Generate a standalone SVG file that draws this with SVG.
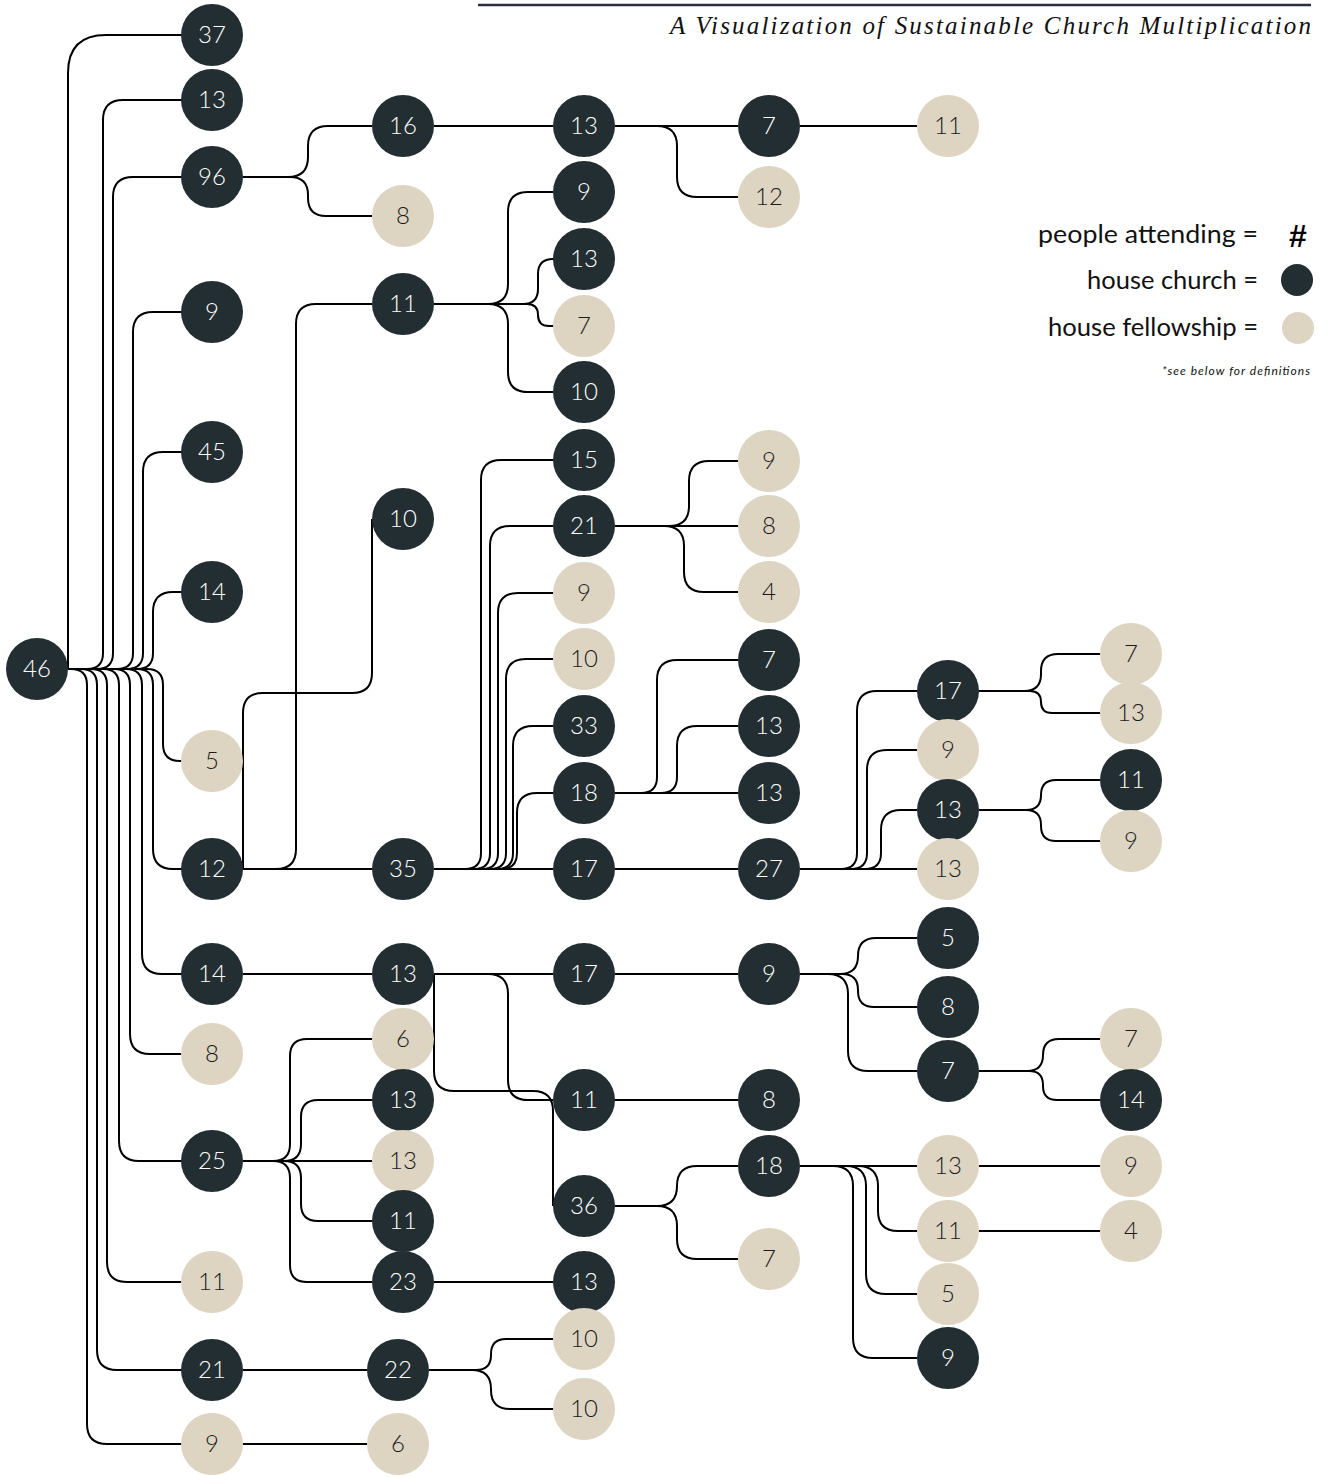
<svg xmlns="http://www.w3.org/2000/svg" width="1330" height="1477" viewBox="0 0 1330 1477">
<style>
.d{fill:#232e32}
.l{fill:#ddd4c2}
.n text{font-family:Lato,"Noto Sans",sans-serif;font-weight:300;font-size:24px;text-anchor:middle}
.n .d+text{fill:#ffffff}
.n .l+text{fill:#1b1b1b}
#links path{fill:none;stroke:#000;stroke-width:2}
.leg{font-family:Lato,"Noto Sans",sans-serif;font-size:25px;fill:#111;text-anchor:end}
</style>
<rect width="1330" height="1477" fill="#ffffff"/>
<g id="title">
<line x1="478" y1="5" x2="1311" y2="5" stroke="#2b3040" stroke-width="2.5"/>
<text x="1311" y="34" text-anchor="end" font-family="'Liberation Serif',serif" font-style="italic" font-size="25" fill="#111" textLength="641" lengthAdjust="spacing">A Visualization of Sustainable Church Multiplication</text>
</g>
<g id="legend">
<text class="leg" x="1258" y="243" textLength="220" lengthAdjust="spacingAndGlyphs">people attending =</text>
<text x="1298" y="247" text-anchor="middle" font-family="'Liberation Sans',sans-serif" font-weight="bold" font-size="32" fill="#000">#</text>
<text class="leg" x="1258" y="289" textLength="171" lengthAdjust="spacingAndGlyphs">house church =</text>
<text class="leg" x="1258" y="336" textLength="210" lengthAdjust="spacingAndGlyphs">house fellowship =</text>
<circle cx="1297" cy="280" r="16" class="d"/>
<circle cx="1298" cy="328" r="16" class="l"/>
<text x="1310" y="375" text-anchor="end" font-family="Lato,'Noto Sans',sans-serif" font-style="italic" font-size="12" fill="#111" textLength="148" lengthAdjust="spacing">*see below for definitions</text>
</g>
<g id="links">
<path d="M68 669 V73 Q68 35 106 35 H182"/>
<path d="M68 669 H87 Q103 669 103 653 V120 Q103 100 123 100 H182"/>
<path d="M68 669 H97 Q113 669 113 653 V197 Q113 177 133 177 H182"/>
<path d="M68 669 H117 Q133 669 133 653 V332 Q133 312 153 312 H182"/>
<path d="M68 669 H127 Q143 669 143 653 V472 Q143 452 163 452 H182"/>
<path d="M68 669 H137 Q153 669 153 653 V612 Q153 592 173 592 H182"/>
<path d="M68 669 H147 Q163 669 163 685 V744 Q163 761 180 761 H182"/>
<path d="M68 669 H137 Q153 669 153 685 V849 Q153 869 173 869 H182"/>
<path d="M68 669 H126 Q142 669 142 685 V954 Q142 974 162 974 H182"/>
<path d="M68 669 H114 Q130 669 130 685 V1034 Q130 1054 150 1054 H182"/>
<path d="M68 669 H103 Q119 669 119 685 V1141 Q119 1161 139 1161 H182"/>
<path d="M68 669 H91 Q107 669 107 685 V1262 Q107 1282 127 1282 H182"/>
<path d="M68 669 H81 Q97 669 97 685 V1350 Q97 1370 117 1370 H182"/>
<path d="M68 669 H71 Q87 669 87 685 V1424 Q87 1444 107 1444 H182"/>
<path d="M243 177 H288 Q308 177 308 157 V146 Q308 126 328 126 H372"/>
<path d="M243 177 H290 Q308 177 308 195 V198 Q308 216 326 216 H372"/>
<path d="M434 126 H553"/>
<path d="M615 126 H738"/>
<path d="M615 126 H657 Q677 126 677 146 V177 Q677 197 697 197 H738"/>
<path d="M800 126 H917"/>
<path d="M243 869 H276 Q296 869 296 849 V324 Q296 304 316 304 H372"/>
<path d="M243 869 V713 Q243 693 263 693 H352 Q372 693 372 673 V519"/>
<path d="M243 869 H372"/>
<path d="M434 304 H488 Q508 304 508 284 V212 Q508 192 528 192 H553"/>
<path d="M434 304 H523 Q538 304 538 289 V274 Q538 259 553 259 H555"/>
<path d="M434 304 H527 Q538 304 538 315 Q538 326 549 326 H555"/>
<path d="M434 304 H488 Q508 304 508 324 V372 Q508 392 528 392 H553"/>
<path d="M434 869 H465 Q481 869 481 853 V480 Q481 460 501 460 H553"/>
<path d="M434 869 H474 Q490 869 490 853 V546 Q490 526 510 526 H553"/>
<path d="M434 869 H482 Q498 869 498 853 V613 Q498 593 518 593 H553"/>
<path d="M434 869 H490 Q506 869 506 853 V679 Q506 659 526 659 H553"/>
<path d="M434 869 H497 Q513 869 513 853 V746 Q513 726 533 726 H553"/>
<path d="M434 869 H501 Q517 869 517 853 V813 Q517 793 537 793 H553"/>
<path d="M434 869 H553"/>
<path d="M615 526 H669 Q689 526 689 506 V481 Q689 461 709 461 H738"/>
<path d="M615 526 H738"/>
<path d="M615 526 H664 Q684 526 684 546 V572 Q684 592 704 592 H738"/>
<path d="M615 793 H641 Q657 793 657 777 V680 Q657 660 677 660 H738"/>
<path d="M615 793 H661 Q677 793 677 777 V746 Q677 726 697 726 H738"/>
<path d="M615 793 H738"/>
<path d="M615 869 H738"/>
<path d="M800 869 H841 Q857 869 857 853 V711 Q857 691 877 691 H917"/>
<path d="M800 869 H851 Q867 869 867 853 V770 Q867 750 887 750 H917"/>
<path d="M800 869 H865 Q881 869 881 853 V830 Q881 810 901 810 H917"/>
<path d="M800 869 H917"/>
<path d="M979 691 H1024 Q1041 691 1041 674 V671 Q1041 654 1058 654 H1100"/>
<path d="M979 691 H1030 Q1041 691 1041 702 Q1041 713 1052 713 H1100"/>
<path d="M979 810 H1026 Q1041 810 1041 795 Q1041 780 1056 780 H1100"/>
<path d="M979 810 H1026 Q1041 810 1041 825 V826 Q1041 841 1056 841 H1100"/>
<path d="M243 974 H372"/>
<path d="M434 974 H553"/>
<path d="M434 974 H488 Q508 974 508 994 V1080 Q508 1100 528 1100 H553"/>
<path d="M434 974 V1071 Q434 1091 454 1091 H533 Q553 1091 553 1111 V1206"/>
<path d="M615 974 H738"/>
<path d="M800 974 H840 Q858 974 858 956 Q858 938 876 938 H917"/>
<path d="M800 974 H842 Q858 974 858 990 V991 Q858 1007 874 1007 H917"/>
<path d="M800 974 H828 Q848 974 848 994 V1051 Q848 1071 868 1071 H917"/>
<path d="M979 1071 H1027 Q1043 1071 1043 1055 Q1043 1039 1059 1039 H1100"/>
<path d="M979 1071 H1029 Q1043 1071 1043 1085 V1086 Q1043 1100 1057 1100 H1100"/>
<path d="M615 1100 H738"/>
<path d="M615 1206 H657 Q677 1206 677 1186 Q677 1166 697 1166 H738"/>
<path d="M615 1206 H657 Q677 1206 677 1226 V1239 Q677 1259 697 1259 H738"/>
<path d="M800 1166 H917"/>
<path d="M800 1166 H858 Q878 1166 878 1186 V1211 Q878 1231 898 1231 H917"/>
<path d="M800 1166 H846 Q866 1166 866 1186 V1274 Q866 1294 886 1294 H917"/>
<path d="M800 1166 H833 Q853 1166 853 1186 V1338 Q853 1358 873 1358 H917"/>
<path d="M979 1166 H1100"/>
<path d="M979 1231 H1100"/>
<path d="M243 1161 H273 Q290 1161 290 1144 V1056 Q290 1039 307 1039 H372"/>
<path d="M243 1161 H284 Q301 1161 301 1144 V1117 Q301 1100 318 1100 H372"/>
<path d="M243 1161 H372"/>
<path d="M243 1161 H284 Q301 1161 301 1178 V1204 Q301 1221 318 1221 H372"/>
<path d="M243 1161 H273 Q290 1161 290 1178 V1265 Q290 1282 307 1282 H372"/>
<path d="M434 1282 H553"/>
<path d="M243 1370 H367"/>
<path d="M429 1370 H476 Q491 1370 491 1355 V1354 Q491 1339 506 1339 H553"/>
<path d="M429 1370 H472 Q491 1370 491 1389 V1390 Q491 1409 510 1409 H553"/>
<path d="M243 1444 H367"/>
</g>
<g id="nodes">
<g class="n" id="n46"><circle cx="37" cy="669" r="31" class="d"/><text x="37" y="677">46</text></g>
<g class="n" id="n37"><circle cx="212" cy="35" r="31" class="d"/><text x="212" y="43">37</text></g>
<g class="n" id="n13a"><circle cx="212" cy="100" r="31" class="d"/><text x="212" y="108">13</text></g>
<g class="n" id="n96"><circle cx="212" cy="177" r="31" class="d"/><text x="212" y="185">96</text></g>
<g class="n" id="n9a"><circle cx="212" cy="312" r="31" class="d"/><text x="212" y="320">9</text></g>
<g class="n" id="n45"><circle cx="212" cy="452" r="31" class="d"/><text x="212" y="460">45</text></g>
<g class="n" id="n14a"><circle cx="212" cy="592" r="31" class="d"/><text x="212" y="600">14</text></g>
<g class="n" id="n5a"><circle cx="212" cy="761" r="31" class="l"/><text x="212" y="769">5</text></g>
<g class="n" id="n12a"><circle cx="212" cy="869" r="31" class="d"/><text x="212" y="877">12</text></g>
<g class="n" id="n14b"><circle cx="212" cy="974" r="31" class="d"/><text x="212" y="982">14</text></g>
<g class="n" id="n8a"><circle cx="212" cy="1054" r="31" class="l"/><text x="212" y="1062">8</text></g>
<g class="n" id="n25"><circle cx="212" cy="1161" r="31" class="d"/><text x="212" y="1169">25</text></g>
<g class="n" id="n11a"><circle cx="212" cy="1282" r="31" class="l"/><text x="212" y="1290">11</text></g>
<g class="n" id="n21a"><circle cx="212" cy="1370" r="31" class="d"/><text x="212" y="1378">21</text></g>
<g class="n" id="n9b"><circle cx="212" cy="1444" r="31" class="l"/><text x="212" y="1452">9</text></g>
<g class="n" id="n16"><circle cx="403" cy="126" r="31" class="d"/><text x="403" y="134">16</text></g>
<g class="n" id="n8b"><circle cx="403" cy="216" r="31" class="l"/><text x="403" y="224">8</text></g>
<g class="n" id="n11b"><circle cx="403" cy="304" r="31" class="d"/><text x="403" y="312">11</text></g>
<g class="n" id="n10a"><circle cx="403" cy="519" r="31" class="d"/><text x="403" y="527">10</text></g>
<g class="n" id="n35"><circle cx="403" cy="869" r="31" class="d"/><text x="403" y="877">35</text></g>
<g class="n" id="n13b"><circle cx="403" cy="974" r="31" class="d"/><text x="403" y="982">13</text></g>
<g class="n" id="n6a"><circle cx="403" cy="1039" r="31" class="l"/><text x="403" y="1047">6</text></g>
<g class="n" id="n13c"><circle cx="403" cy="1100" r="31" class="d"/><text x="403" y="1108">13</text></g>
<g class="n" id="n13d"><circle cx="403" cy="1161" r="31" class="l"/><text x="403" y="1169">13</text></g>
<g class="n" id="n11c"><circle cx="403" cy="1221" r="31" class="d"/><text x="403" y="1229">11</text></g>
<g class="n" id="n23"><circle cx="403" cy="1282" r="31" class="d"/><text x="403" y="1290">23</text></g>
<g class="n" id="n22"><circle cx="398" cy="1370" r="31" class="d"/><text x="398" y="1378">22</text></g>
<g class="n" id="n6b"><circle cx="398" cy="1444" r="31" class="l"/><text x="398" y="1452">6</text></g>
<g class="n" id="n13e"><circle cx="584" cy="126" r="31" class="d"/><text x="584" y="134">13</text></g>
<g class="n" id="n9c"><circle cx="584" cy="192" r="31" class="d"/><text x="584" y="200">9</text></g>
<g class="n" id="n13f"><circle cx="584" cy="259" r="31" class="d"/><text x="584" y="267">13</text></g>
<g class="n" id="n7a"><circle cx="584" cy="326" r="31" class="l"/><text x="584" y="334">7</text></g>
<g class="n" id="n10b"><circle cx="584" cy="392" r="31" class="d"/><text x="584" y="400">10</text></g>
<g class="n" id="n15"><circle cx="584" cy="460" r="31" class="d"/><text x="584" y="468">15</text></g>
<g class="n" id="n21b"><circle cx="584" cy="526" r="31" class="d"/><text x="584" y="534">21</text></g>
<g class="n" id="n9d"><circle cx="584" cy="593" r="31" class="l"/><text x="584" y="601">9</text></g>
<g class="n" id="n10c"><circle cx="584" cy="659" r="31" class="l"/><text x="584" y="667">10</text></g>
<g class="n" id="n33"><circle cx="584" cy="726" r="31" class="d"/><text x="584" y="734">33</text></g>
<g class="n" id="n18a"><circle cx="584" cy="793" r="31" class="d"/><text x="584" y="801">18</text></g>
<g class="n" id="n17a"><circle cx="584" cy="869" r="31" class="d"/><text x="584" y="877">17</text></g>
<g class="n" id="n17b"><circle cx="584" cy="974" r="31" class="d"/><text x="584" y="982">17</text></g>
<g class="n" id="n11d"><circle cx="584" cy="1100" r="31" class="d"/><text x="584" y="1108">11</text></g>
<g class="n" id="n36"><circle cx="584" cy="1206" r="31" class="d"/><text x="584" y="1214">36</text></g>
<g class="n" id="n13g"><circle cx="584" cy="1282" r="31" class="d"/><text x="584" y="1290">13</text></g>
<g class="n" id="n10d"><circle cx="584" cy="1339" r="31" class="l"/><text x="584" y="1347">10</text></g>
<g class="n" id="n10e"><circle cx="584" cy="1409" r="31" class="l"/><text x="584" y="1417">10</text></g>
<g class="n" id="n7b"><circle cx="769" cy="126" r="31" class="d"/><text x="769" y="134">7</text></g>
<g class="n" id="n12b"><circle cx="769" cy="197" r="31" class="l"/><text x="769" y="205">12</text></g>
<g class="n" id="n9e"><circle cx="769" cy="461" r="31" class="l"/><text x="769" y="469">9</text></g>
<g class="n" id="n8c"><circle cx="769" cy="526" r="31" class="l"/><text x="769" y="534">8</text></g>
<g class="n" id="n4a"><circle cx="769" cy="592" r="31" class="l"/><text x="769" y="600">4</text></g>
<g class="n" id="n7c"><circle cx="769" cy="660" r="31" class="d"/><text x="769" y="668">7</text></g>
<g class="n" id="n13h"><circle cx="769" cy="726" r="31" class="d"/><text x="769" y="734">13</text></g>
<g class="n" id="n13i"><circle cx="769" cy="793" r="31" class="d"/><text x="769" y="801">13</text></g>
<g class="n" id="n27"><circle cx="769" cy="869" r="31" class="d"/><text x="769" y="877">27</text></g>
<g class="n" id="n9f"><circle cx="769" cy="974" r="31" class="d"/><text x="769" y="982">9</text></g>
<g class="n" id="n8d"><circle cx="769" cy="1100" r="31" class="d"/><text x="769" y="1108">8</text></g>
<g class="n" id="n18b"><circle cx="769" cy="1166" r="31" class="d"/><text x="769" y="1174">18</text></g>
<g class="n" id="n7d"><circle cx="769" cy="1259" r="31" class="l"/><text x="769" y="1267">7</text></g>
<g class="n" id="n11e"><circle cx="948" cy="126" r="31" class="l"/><text x="948" y="134">11</text></g>
<g class="n" id="n17c"><circle cx="948" cy="691" r="31" class="d"/><text x="948" y="699">17</text></g>
<g class="n" id="n9g"><circle cx="948" cy="750" r="31" class="l"/><text x="948" y="758">9</text></g>
<g class="n" id="n13j"><circle cx="948" cy="810" r="31" class="d"/><text x="948" y="818">13</text></g>
<g class="n" id="n13k"><circle cx="948" cy="869" r="31" class="l"/><text x="948" y="877">13</text></g>
<g class="n" id="n5b"><circle cx="948" cy="938" r="31" class="d"/><text x="948" y="946">5</text></g>
<g class="n" id="n8e"><circle cx="948" cy="1007" r="31" class="d"/><text x="948" y="1015">8</text></g>
<g class="n" id="n7e"><circle cx="948" cy="1071" r="31" class="d"/><text x="948" y="1079">7</text></g>
<g class="n" id="n13l"><circle cx="948" cy="1166" r="31" class="l"/><text x="948" y="1174">13</text></g>
<g class="n" id="n11f"><circle cx="948" cy="1231" r="31" class="l"/><text x="948" y="1239">11</text></g>
<g class="n" id="n5c"><circle cx="948" cy="1294" r="31" class="l"/><text x="948" y="1302">5</text></g>
<g class="n" id="n9h"><circle cx="948" cy="1358" r="31" class="d"/><text x="948" y="1366">9</text></g>
<g class="n" id="n7f"><circle cx="1131" cy="654" r="31" class="l"/><text x="1131" y="662">7</text></g>
<g class="n" id="n13m"><circle cx="1131" cy="713" r="31" class="l"/><text x="1131" y="721">13</text></g>
<g class="n" id="n11g"><circle cx="1131" cy="780" r="31" class="d"/><text x="1131" y="788">11</text></g>
<g class="n" id="n9i"><circle cx="1131" cy="841" r="31" class="l"/><text x="1131" y="849">9</text></g>
<g class="n" id="n7g"><circle cx="1131" cy="1039" r="31" class="l"/><text x="1131" y="1047">7</text></g>
<g class="n" id="n14c"><circle cx="1131" cy="1100" r="31" class="d"/><text x="1131" y="1108">14</text></g>
<g class="n" id="n9j"><circle cx="1131" cy="1166" r="31" class="l"/><text x="1131" y="1174">9</text></g>
<g class="n" id="n4b"><circle cx="1131" cy="1231" r="31" class="l"/><text x="1131" y="1239">4</text></g>
</g>
</svg>
